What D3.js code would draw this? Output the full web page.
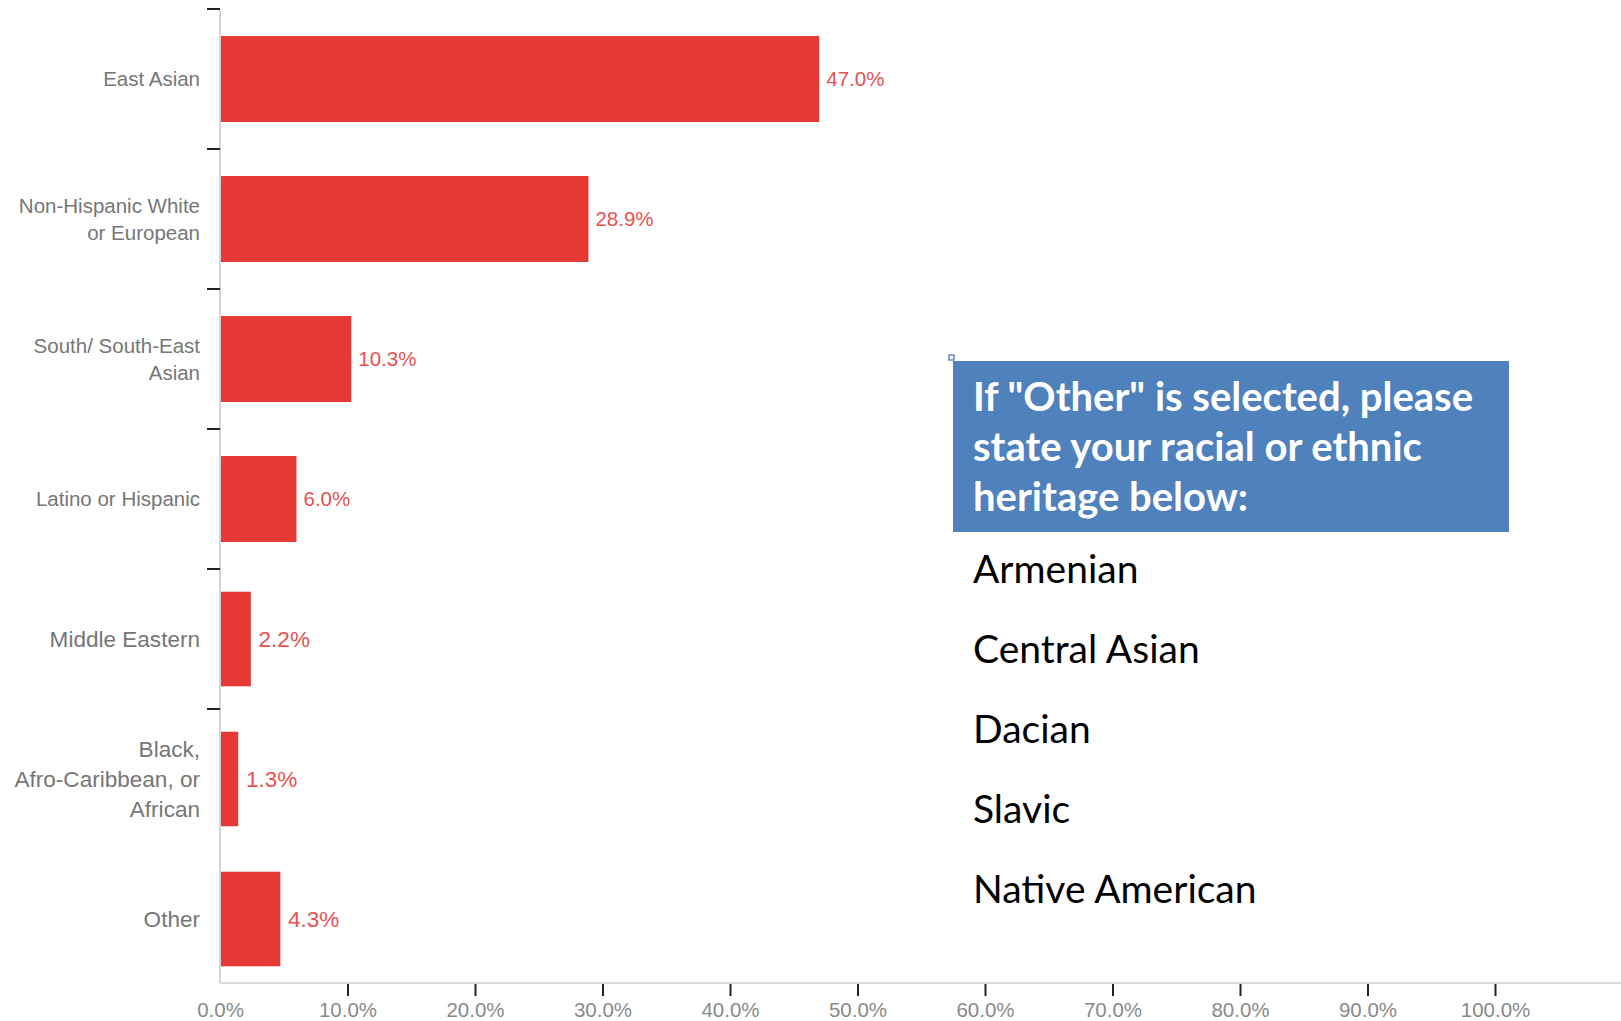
<!DOCTYPE html>
<html>
<head>
<meta charset="utf-8">
<script src="https://cdn.jsdelivr.net/npm/d3@7"></script>
<style>
  html, body { margin: 0; padding: 0; background: #fff; }
  svg { display: block; }
</style>
</head>
<body>
<svg id="chart" width="1621" height="1021"></svg>
<script>
// Survey responses: racial / ethnic heritage (share of respondents, %)
const categories = [
  "East Asian",
  "Non-Hispanic White or European",
  "South/ South-East Asian",
  "Latino or Hispanic",
  "Middle Eastern",
  "Black, Afro-Caribbean, or African",
  "Other"
];
// Wrapped label lines for each category
const categoryLines = [
  ["East Asian"],
  ["Non-Hispanic White", "or European"],
  ["South/ South-East", "Asian"],
  ["Latino or Hispanic"],
  ["Middle Eastern"],
  ["Black,", "Afro-Caribbean, or", "African"],
  ["Other"]
];
const shares = [47.0, 28.9, 10.3, 6.0, 2.2, 1.3, 4.3];
const xTicks = [0, 10, 20, 30, 40, 50, 60, 70, 80, 90, 100];

// Free-text answers given with "Other"
const noteTitle = ["If \"Other\" is selected, please", "state your racial or ethnic", "heritage below:"];
const otherAnswers = ["Armenian", "Central Asian", "Dacian", "Slavic", "Native American"];

// The last three rows come from an enlarged capture of the same chart
const enlargedRows = ["Middle Eastern", "Black, Afro-Caribbean, or African", "Other"];
const enlargeFactor = 1.1;

const svg = d3.select("#chart");
const baseY = 983;
const x0 = 220;

const x = d3.scaleLinear().domain([0, 100]).range([x0, 1495]);
const xBig = d3.scaleLinear().domain([0, 100]).range([x0, x0 + (1495 - x0) * enlargeFactor]);
const y = d3.scaleBand().domain(categories).range([9, 989])
  .paddingInner(0.386).paddingOuter(0.193);

const k = d => enlargedRows.includes(d) ? enlargeFactor : 1;
const xs = d => enlargedRows.includes(d) ? xBig : x;
const labelFont = "'Liberation Sans', Arial, sans-serif";
const baseFont = 20.5;

// Axis lines
svg.append("line")
  .attr("x1", x0).attr("x2", 1621).attr("y1", baseY).attr("y2", baseY)
  .attr("stroke", "#dcdcdc").attr("stroke-width", 2);
svg.append("line")
  .attr("x1", x0).attr("x2", x0).attr("y1", y.range()[0]).attr("y2", baseY)
  .attr("stroke", "#d4d4d4").attr("stroke-width", 2);

// Category separator ticks on the vertical axis
svg.append("g").selectAll("line")
  .data(categories.slice(0, 6))
  .join("line")
  .attr("x1", x0 - 13).attr("x2", x0)
  .attr("y1", d => Math.round(y(d) - y.step() * y.paddingOuter()))
  .attr("y2", d => Math.round(y(d) - y.step() * y.paddingOuter()))
  .attr("stroke", "#222").attr("stroke-width", 2);

// Horizontal axis
const xAxis = d3.axisBottom(x)
  .tickValues(xTicks)
  .tickSize(12)
  .tickPadding(6)
  .tickFormat(d => d3.format(".1f")(d) + "%");
const gx = svg.append("g").attr("transform", `translate(0,${baseY + 1})`).call(xAxis);
gx.select(".domain").remove();
gx.selectAll(".tick line")
  .attr("stroke", "#222").attr("stroke-width", 2)
  .attr("opacity", d => d === 0 ? 0 : 1);
gx.selectAll(".tick text")
  .attr("fill", "#8a8a8a")
  .style("font-family", labelFont)
  .style("font-size", "20.5px");

const center = d => y(d) + y.bandwidth() / 2;

// Bars
svg.append("g").selectAll("rect")
  .data(categories)
  .join("rect")
  .attr("x", x0 + 1)
  .attr("y", d => center(d) - y.bandwidth() * k(d) / 2)
  .attr("width", (d, i) => xs(d)(shares[i]) - x0 - 1)
  .attr("height", d => y.bandwidth() * k(d))
  .attr("fill", "#e53936");

// Value labels
svg.append("g").selectAll("text")
  .data(categories)
  .join("text")
  .attr("x", (d, i) => xs(d)(shares[i]) + 7 * k(d))
  .attr("y", d => center(d))
  .attr("dy", "0.35em")
  .attr("fill", "#e8514f")
  .style("font-family", labelFont)
  .style("font-size", d => (baseFont * k(d)) + "px")
  .text((d, i) => d3.format(".1f")(shares[i]) + "%");

// Category labels
const lineH = 27;
svg.append("g").selectAll("text")
  .data(categories)
  .join("text")
  .attr("text-anchor", "end")
  .attr("fill", "#767676")
  .style("font-family", labelFont)
  .style("font-size", d => (baseFont * k(d)) + "px")
  .each(function(d, i) {
    const lines = categoryLines[i];
    const lh = lineH * k(d);
    const top = center(d) - (lines.length - 1) * lh / 2;
    d3.select(this).selectAll("tspan")
      .data(lines)
      .join("tspan")
      .attr("x", 200)
      .attr("y", (t, j) => top + j * lh)
      .attr("dy", "0.35em")
      .text(t => t);
  });

// Note box with the free-text answers
const box = { x: 953, y: 361, w: 556, h: 171 };
svg.append("rect")
  .attr("x", box.x).attr("y", box.y).attr("width", box.w).attr("height", box.h)
  .attr("fill", "#4f81bd");
svg.append("rect")
  .attr("x", box.x - 4).attr("y", box.y - 6).attr("width", 5).attr("height", 5)
  .attr("fill", "#fff").attr("stroke", "#3b6fc4").attr("stroke-width", 1.2);

svg.append("g").selectAll("text")
  .data(noteTitle)
  .join("text")
  .attr("x", box.x + 20)
  .attr("y", (d, i) => box.y + 50 + i * 50)
  .attr("fill", "#fff")
  .style("font-family", "Lato, 'Open Sans', sans-serif")
  .style("font-weight", "bold")
  .style("font-size", "40px")
  .text(d => d);

svg.append("g").selectAll("text")
  .data(otherAnswers)
  .join("text")
  .attr("x", box.x + 20)
  .attr("y", (d, i) => 583 + i * 80)
  .attr("fill", "#000")
  .style("font-family", "Lato, 'Open Sans', sans-serif")
  .style("font-size", "39px")
  .text(d => d);
</script>
</body>
</html>
